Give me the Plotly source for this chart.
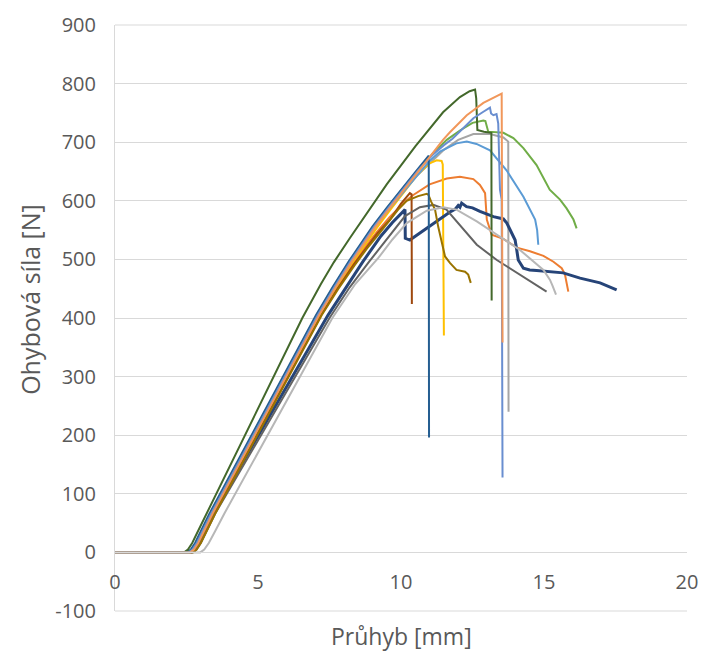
import plotly.graph_objects as go

# ---- data (x = Průhyb [mm], y = Ohybová síla [N]) ----
g_x = [0, 2.68, 2.81, 2.96, 3.16, 3.46, 7.19, 7.76, 8.34, 8.76, 9.16, 9.6, 10.2, 10.43, 11.0, 11.6, 12.06, 12.53, 12.76, 12.94, 13.0, 13.17, 13.58, 14.05, 14.51, 14.98, 15.33, 15.62, 15.73, 15.85]
g_y = [0, 0, 5, 16, 36, 66, 405, 450, 493, 522, 547, 572, 601, 610, 628, 638, 641, 637, 627, 613, 568, 542, 535, 520, 514, 506, 496, 485, 475, 445]

h_x = [0, 2.6, 2.73, 2.88, 3.08, 3.38, 7.11, 7.68, 8.26, 8.68, 9.08, 9.58, 10.08, 10.6, 11.0, 11.5, 12.0, 12.53, 13.11, 13.58, 13.75, 13.76]
h_y = [0, 0, 5, 16, 36, 66, 405, 452, 497, 528, 556, 588, 617, 645, 664, 687, 704, 714, 714, 708, 701, 240]

f_x = [0, 2.65, 2.78, 2.93, 3.13, 3.43, 7.16, 7.73, 8.31, 8.73, 9.13, 9.63, 10.13, 10.55, 11.0, 11.25, 11.42, 11.46, 11.5]
f_y = [0, 0, 5, 16, 36, 66, 405, 451, 495, 525, 552, 585, 616, 643, 664, 669, 668, 662, 370]

i_x = [0, 2.62, 2.75, 2.9, 3.1, 3.4, 7.13, 7.7, 8.28, 8.7, 9.1, 9.6, 10.1, 10.5, 11.0, 11.36, 11.94, 12.3, 12.64, 13.11, 13.69, 14.28, 14.69, 14.76, 14.8]
i_y = [0, 0, 5, 16, 36, 66, 405, 452, 497, 528, 556, 587, 616, 640, 668, 684, 698, 701, 697, 686, 652, 607, 568, 550, 525]

d_x = [0, 2.55, 2.68, 2.83, 3.03, 3.33, 7.06, 7.63, 8.21, 8.63, 9.03, 9.53, 10.03, 10.6, 11.1, 11.6, 12.06, 12.5, 12.88, 12.95, 13.0, 13.05, 13.58, 13.93, 14.28, 14.74, 15.2, 15.56, 15.79, 16.03, 16.14]
d_y = [0, 0, 5, 16, 36, 66, 405, 452, 497, 528, 556, 588, 619, 652, 680, 704, 720, 733, 737, 736, 726, 718, 716, 707, 690, 661, 619, 602, 587, 568, 553]

j_x = [0, 2.65, 2.78, 2.93, 3.13, 3.43, 7.45, 8.1, 8.65, 9.3, 9.7, 10.14, 10.15, 10.31, 10.8, 11.3, 11.75, 11.9, 12.0, 12.06, 12.12, 12.29, 12.5, 12.76, 13.0, 13.23, 13.58, 13.7, 13.81, 13.99, 14.05, 14.1, 14.28, 14.5, 14.74, 15.2, 15.67, 16.26, 16.96, 17.54]
j_y = [0, 0, 5, 16, 36, 66, 405, 455, 495, 540, 563, 585, 536, 533, 550, 567, 582, 586, 592, 589, 596, 590, 588, 582, 578, 573, 569, 562, 551, 533, 515, 499, 485, 482, 481, 479, 477, 468, 460, 448]

m_x = [0, 2.7, 2.83, 2.98, 3.18, 3.48, 7.21, 7.78, 8.36, 8.78, 9.18, 9.62, 10.0, 10.31, 10.37, 10.38]
m_y = [0, 0, 5, 16, 36, 66, 405, 450, 492, 520, 545, 568, 595, 613, 611, 424]

k_x = [0, 2.72, 2.85, 3.0, 3.2, 3.5, 7.5, 8.2, 8.9, 9.3, 9.7, 10.14, 10.66, 11.13, 11.59, 12.06, 12.65, 13.35, 14.16, 15.09]
k_y = [0, 0, 5, 16, 36, 66, 400, 452, 497, 522, 548, 574, 589, 593, 585, 559, 525, 499, 474, 445]

n_x = [0, 2.72, 2.85, 3.0, 3.2, 3.5, 7.23, 7.8, 8.38, 8.8, 9.2, 9.5, 9.9, 10.2, 10.6, 10.9, 10.96, 11.05, 11.19, 11.3, 11.42, 11.54, 11.71, 11.94, 12.24, 12.35, 12.44]
n_y = [0, 0, 5, 16, 36, 66, 405, 449, 490, 518, 542, 560, 585, 600, 608, 612, 610, 599, 585, 556, 528, 505, 494, 482, 479, 474, 460]

e_x = [0, 2.52, 2.65, 2.8, 3.0, 3.3, 7.03, 7.6, 8.18, 8.6, 9.0, 9.5, 10.0, 10.5, 10.97, 10.98]
e_y = [0, 0, 5, 16, 36, 66, 405, 452, 497, 528, 556, 588, 619, 649, 677, 196]

a_x = [0, 2.42, 2.55, 2.7, 2.9, 3.2, 6.55, 7.2, 7.65, 8.22, 9.0, 9.5, 10.5, 11.47, 12.06, 12.4, 12.59, 12.63, 12.67, 12.9, 13.16, 13.17]
a_y = [0, 0, 5, 16, 36, 66, 400, 458, 495, 537, 593, 628, 693, 751, 777, 787, 790, 775, 721, 718, 716, 430]

c_x = [0, 2.58, 2.71, 2.86, 3.06, 3.36, 7.09, 7.66, 8.24, 8.66, 9.06, 9.56, 10.06, 10.6, 11.1, 11.5, 11.8, 12.06, 12.53, 12.88, 13.11, 13.15, 13.23, 13.34, 13.4, 13.46, 13.52, 13.55]
c_y = [0, 0, 5, 16, 36, 66, 405, 452, 497, 528, 556, 588, 619, 652, 678, 695, 706, 718, 741, 752, 759, 749, 746, 748, 732, 619, 602, 128]

b_x = [0, 2.63, 2.76, 2.91, 3.11, 3.41, 7.14, 7.71, 8.29, 8.71, 9.11, 9.61, 10.11, 10.6, 11.0, 11.47, 11.71, 12.3, 12.88, 13.52, 13.55]
b_y = [0, 0, 5, 16, 36, 66, 405, 452, 497, 528, 556, 588, 619, 650, 676, 704, 717, 746, 767, 783, 358]

l_x = [0, 2.98, 3.12, 3.28, 3.5, 3.82, 7.6, 8.4, 9.2, 9.7, 10.2, 10.9, 11.48, 11.94, 12.65, 13.35, 14.16, 14.98, 15.21, 15.3, 15.42]
l_y = [0, 0, 5, 16, 36, 66, 400, 458, 502, 534, 562, 583, 589, 585, 565, 542, 516, 482, 465, 455, 440]

series = [
    (g_x, g_y, "#ED7D31", 2),
    (h_x, h_y, "#A5A5A5", 2),
    (f_x, f_y, "#FFC000", 2),
    (i_x, i_y, "#5B9BD5", 2),
    (d_x, d_y, "#70AD47", 2),
    (j_x, j_y, "#264478", 3),
    (m_x, m_y, "#9E480E", 2),
    (k_x, k_y, "#636363", 2),
    (n_x, n_y, "#997300", 2),
    (e_x, e_y, "#255E91", 2),
    (a_x, a_y, "#43682B", 2),
    (c_x, c_y, "#698ED0", 2),
    (b_x, b_y, "#F1975A", 2),
    (l_x, l_y, "#B7B7B7", 2),
]

y_tick_vals = [-100, 0, 100, 200, 300, 400, 500, 600, 700, 800, 900]
y_tick_text = ["-100", "0", "100", "200", "300", "400", "500", "600", "700", "800", "900"]
x_tick_vals = [0, 5, 10, 15, 20]
x_tick_text = ["0", "5", "10", "15", "20"]

x_title = "Průhyb [mm]"
y_title = "Ohybová síla [N]"

fig = go.Figure()
for xs, ys, col, w in series:
    fig.add_trace(go.Scatter(x=xs, y=ys, mode="lines",
                             line=dict(color=col, width=w),
                             showlegend=False, hoverinfo="skip"))

font_family = "Open Sans"
tick_col = "#595959"
grid_col = "#D9D9D9"

fig.update_layout(
    width=706, height=652,
    margin=dict(l=115, r=19, t=25, b=41),
    paper_bgcolor="white", plot_bgcolor="white",
    font=dict(family=font_family, color=tick_col),
    xaxis=dict(range=[0, 20], tickmode="array", tickvals=x_tick_vals, ticktext=x_tick_text,
               showgrid=False, zeroline=False, automargin=False,
               showline=True, linecolor=grid_col, linewidth=1,
               anchor="free", position=0.1,
               ticks="outside", ticklen=12, tickcolor="rgba(0,0,0,0)",
               tickfont=dict(size=20, color=tick_col, family=font_family)),
    yaxis=dict(range=[-100, 900], tickmode="array", tickvals=y_tick_vals, ticktext=y_tick_text,
               showgrid=True, automargin=False,
               gridcolor=grid_col, gridwidth=1, zeroline=False,
               showline=True, linecolor=grid_col, linewidth=1,
               ticks="outside", ticklen=14, tickcolor="rgba(0,0,0,0)",
               tickfont=dict(size=20, color=tick_col, family=font_family)),
    shapes=[
        # frame gridlines at the top (900) and bottom (-100) edges of the plot area
        dict(type="line", xref="paper", yref="paper", x0=0, x1=1, y0=1, y1=1,
             line=dict(color=grid_col, width=1), layer="below"),
        dict(type="line", xref="paper", yref="paper", x0=0, x1=1, y0=0, y1=0,
             line=dict(color=grid_col, width=1), layer="below"),
    ],
    annotations=[
        dict(text=x_title, xref="paper", yref="paper", x=0.5, y=0,
             xanchor="center", yanchor="middle", yshift=-25, showarrow=False,
             font=dict(size=23, color=tick_col, family=font_family)),
        dict(text=y_title, xref="paper", yref="paper", x=-0.1486, y=0.531,
             xanchor="center", yanchor="middle", textangle=-90, showarrow=False,
             font=dict(size=25, color=tick_col, family=font_family)),
    ],
)

fig.write_html("out.html", config={"displayModeBar": False},
               post_script="document.body.style.margin='0';document.body.style.overflow='hidden';")
